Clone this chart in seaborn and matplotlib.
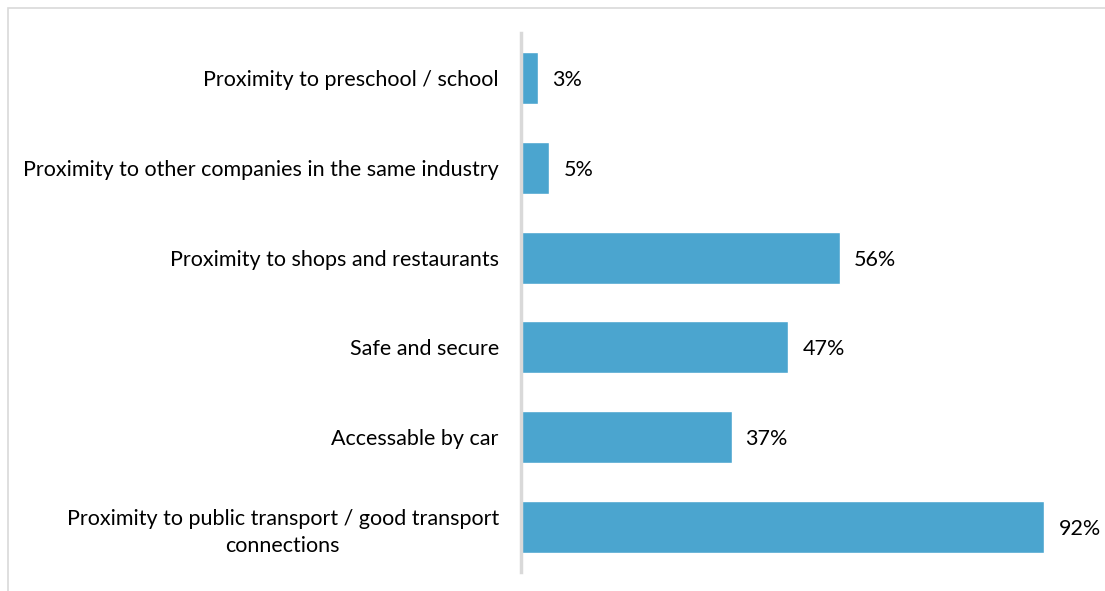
import matplotlib
matplotlib.use("Agg")
import matplotlib.pyplot as plt
import matplotlib.patches as mpatches
import seaborn as sns
import pandas as pd

categories = [
    "Proximity to preschool / school",
    "Proximity to other companies in the same industry",
    "Proximity to shops and restaurants",
    "Safe and secure",
    "Accessable by car",
    "Proximity to public transport / good transport\nconnections",
]
values = [3, 5, 56, 47, 37, 92]

df = pd.DataFrame({"factor": categories, "share": values})

sns.set_theme(style="white")
plt.rcParams["font.family"] = ["Lato", "DejaVu Sans"]

W, H = 1105, 591
FS = 15.5
fig = plt.figure(figsize=(W / 100, H / 100), dpi=100)
ax = fig.add_axes([521 / W, (H - 572) / H, 569 / W, (572 - 33) / H])

sns.barplot(data=df, y="factor", x="share", orient="h", color="#4BA5CF",
            saturation=1, width=0.58, ax=ax)

ax.set_xlim(0, 100)
ax.set_ylim(5.5, -0.5)
ax.set_xlabel("")
ax.set_ylabel("")
ax.set_xticks([])
ax.tick_params(axis="y", length=0, pad=16, labelsize=FS, labelcolor="#000000")
for lbl in ax.get_yticklabels():
    lbl.set_multialignment("center")
    lbl.set_linespacing(1.45)
    lbl.set_verticalalignment("center_baseline")

for side in ["top", "right", "bottom"]:
    ax.spines[side].set_visible(False)
ax.spines["left"].set_color("#D9D9D9")
ax.spines["left"].set_linewidth(2.5)

for i, v in enumerate(values):
    ax.annotate(f"{v}%", xy=(v, i), xytext=(14, 0), textcoords="offset pixels",
                va="center_baseline", ha="left", fontsize=FS, color="#000000")

# outer chart frame
fig.patches.append(mpatches.Rectangle((8 / W, -0.2), 1.5, (H - 8) / H + 0.2,
                                      transform=fig.transFigure, fill=False,
                                      edgecolor="#D9D9D9", linewidth=1.2))

fig.savefig("out.png", dpi=100)
